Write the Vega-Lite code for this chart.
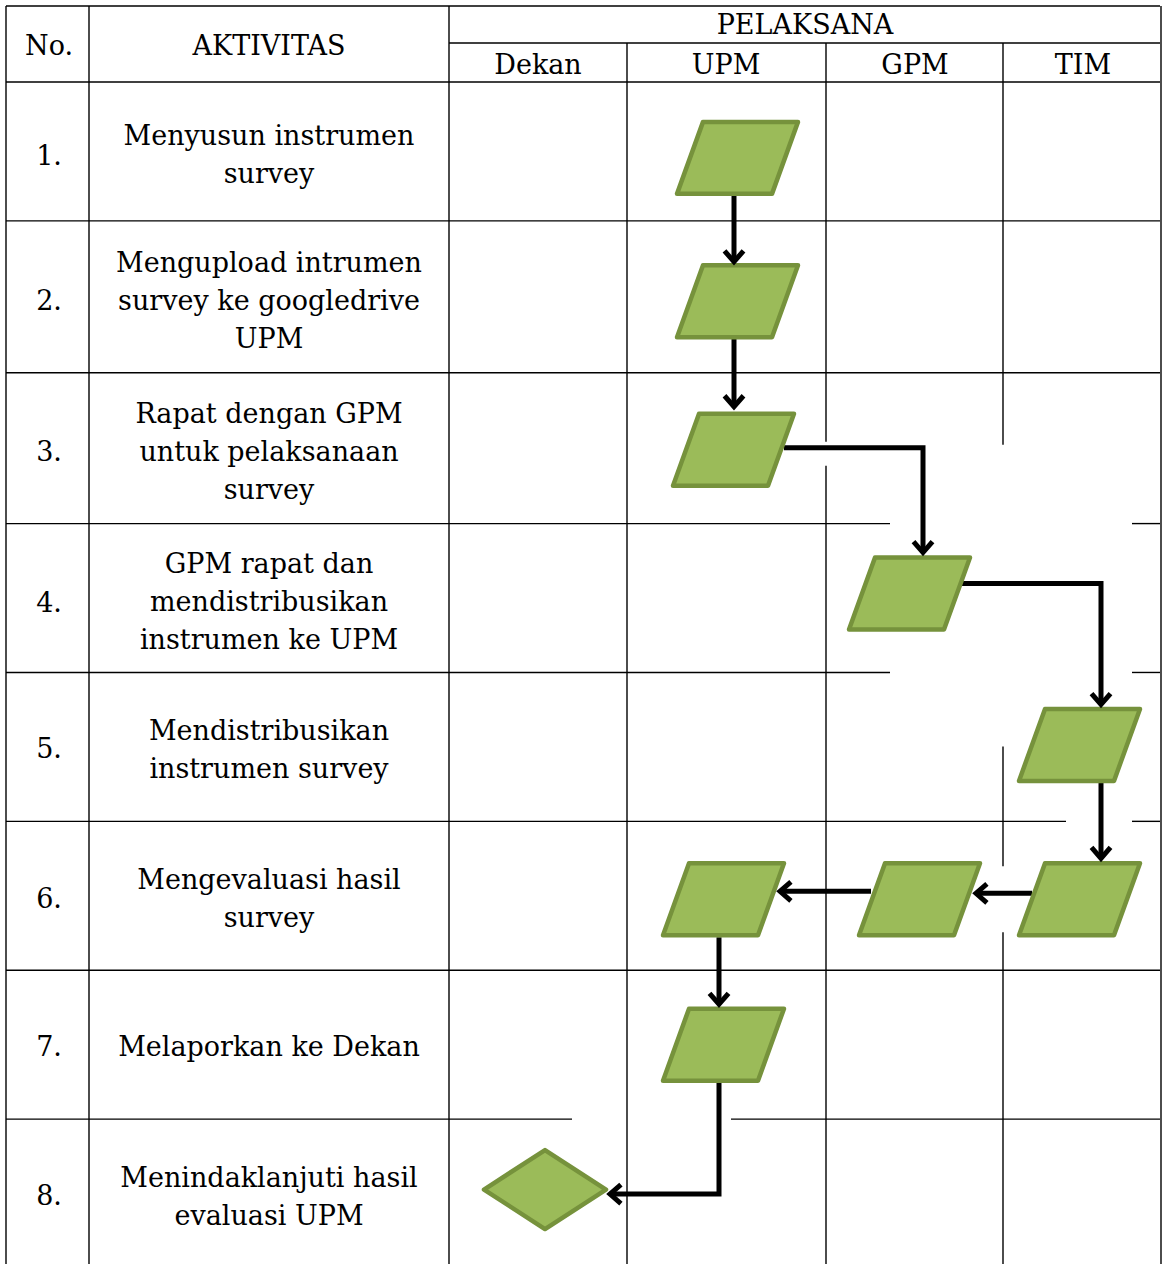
{
  "$schema": "https://vega.github.io/schema/vega-lite/v6.json",
  "width": 1164,
  "height": 1265,
  "padding": 0,
  "autosize": {"type": "fit", "contains": "padding"},
  "background": "white",
  "config": {"view": {"stroke": null}},
  "datasets": {
    "grid": [
      {"x1": 6, "y1": 6, "x2": 1160, "y2": 6},
      {"x1": 449, "y1": 43, "x2": 1160, "y2": 43},
      {"x1": 6, "y1": 82, "x2": 1160, "y2": 82},
      {"x1": 6, "y1": 221, "x2": 1160, "y2": 221},
      {"x1": 6, "y1": 373, "x2": 1160, "y2": 373},
      {"x1": 6, "y1": 524, "x2": 890, "y2": 524},
      {"x1": 1132, "y1": 524, "x2": 1160, "y2": 524},
      {"x1": 6, "y1": 673, "x2": 890, "y2": 673},
      {"x1": 1132, "y1": 673, "x2": 1160, "y2": 673},
      {"x1": 6, "y1": 822, "x2": 1066, "y2": 822},
      {"x1": 1132, "y1": 822, "x2": 1160, "y2": 822},
      {"x1": 6, "y1": 971, "x2": 1160, "y2": 971},
      {"x1": 6, "y1": 1120, "x2": 572, "y2": 1120},
      {"x1": 731, "y1": 1120, "x2": 1160, "y2": 1120},
      {"x1": 6, "y1": 6, "x2": 6, "y2": 1265},
      {"x1": 89, "y1": 6, "x2": 89, "y2": 1265},
      {"x1": 449, "y1": 6, "x2": 449, "y2": 1265},
      {"x1": 627, "y1": 43, "x2": 627, "y2": 1265},
      {"x1": 826, "y1": 43, "x2": 826, "y2": 442},
      {"x1": 826, "y1": 466, "x2": 826, "y2": 1265},
      {"x1": 1003, "y1": 43, "x2": 1003, "y2": 445},
      {"x1": 1003, "y1": 747, "x2": 1003, "y2": 867},
      {"x1": 1003, "y1": 933, "x2": 1003, "y2": 1265},
      {"x1": 1161, "y1": 6, "x2": 1161, "y2": 1265}
    ],
    "arrows": [
      {"id": "a1", "seq": 1, "x": 734, "y": 195},
      {"id": "a1", "seq": 2, "x": 734, "y": 261},
      {"id": "a2", "seq": 1, "x": 734, "y": 338},
      {"id": "a2", "seq": 2, "x": 734, "y": 406},
      {"id": "a3", "seq": 1, "x": 784, "y": 448},
      {"id": "a3", "seq": 2, "x": 923, "y": 448},
      {"id": "a3", "seq": 3, "x": 923, "y": 552},
      {"id": "a4", "seq": 1, "x": 962, "y": 584},
      {"id": "a4", "seq": 2, "x": 1101, "y": 584},
      {"id": "a4", "seq": 3, "x": 1101, "y": 704},
      {"id": "a5", "seq": 1, "x": 1101, "y": 783},
      {"id": "a5", "seq": 2, "x": 1101, "y": 858},
      {"id": "a6", "seq": 1, "x": 1032, "y": 894},
      {"id": "a6", "seq": 2, "x": 977, "y": 894},
      {"id": "a7", "seq": 1, "x": 871, "y": 892},
      {"id": "a7", "seq": 2, "x": 781, "y": 892},
      {"id": "a8", "seq": 1, "x": 719, "y": 938},
      {"id": "a8", "seq": 2, "x": 719, "y": 1004},
      {"id": "a9", "seq": 1, "x": 719, "y": 1083},
      {"id": "a9", "seq": 2, "x": 719, "y": 1195},
      {"id": "a9", "seq": 3, "x": 611, "y": 1195}
    ],
    "heads": [
      {"dir": "down", "x": 734, "y": 262},
      {"dir": "down", "x": 734, "y": 407},
      {"dir": "down", "x": 923, "y": 553},
      {"dir": "down", "x": 1101, "y": 705},
      {"dir": "down", "x": 1101, "y": 859},
      {"dir": "down", "x": 719, "y": 1005},
      {"dir": "left", "x": 976, "y": 894},
      {"dir": "left", "x": 780, "y": 892},
      {"dir": "left", "x": 610, "y": 1195}
    ],
    "shapes": [
      {"kind": "data", "step": "1", "x": 737.5, "y": 158},
      {"kind": "data", "step": "2", "x": 737.5, "y": 301.5},
      {"kind": "data", "step": "3", "x": 733.5, "y": 450},
      {"kind": "data", "step": "4", "x": 909.5, "y": 594},
      {"kind": "data", "step": "5", "x": 1079.5, "y": 745.5},
      {"kind": "data", "step": "6 TIM", "x": 1079.5, "y": 900},
      {"kind": "data", "step": "6 GPM", "x": 919.5, "y": 900},
      {"kind": "data", "step": "6 UPM", "x": 723.5, "y": 900},
      {"kind": "data", "step": "7", "x": 723.5, "y": 1045.5},
      {"kind": "decision", "step": "8", "x": 545, "y": 1190.5}
    ],
    "labels": [
      {"text": "PELAKSANA", "x": 805, "y": 26},
      {"text": "No.", "x": 49, "y": 47},
      {"text": "AKTIVITAS", "x": 269, "y": 47},
      {"text": "Dekan", "x": 538, "y": 66},
      {"text": "UPM", "x": 726, "y": 66},
      {"text": "GPM", "x": 915, "y": 66},
      {"text": "TIM", "x": 1083, "y": 66},
      {"text": "1.", "x": 49, "y": 157},
      {"text": "2.", "x": 49, "y": 302},
      {"text": "3.", "x": 49, "y": 453},
      {"text": "4.", "x": 49, "y": 604},
      {"text": "5.", "x": 49, "y": 751},
      {"text": "6.", "x": 49, "y": 901},
      {"text": "7.", "x": 49, "y": 1049},
      {"text": "8.", "x": 49, "y": 1198},
      {"text": "Menyusun instrumen\nsurvey", "x": 269, "y": 137},
      {"text": "Mengupload intrumen\nsurvey ke googledrive\nUPM", "x": 269, "y": 264},
      {"text": "Rapat dengan GPM\nuntuk pelaksanaan\nsurvey", "x": 269, "y": 415},
      {"text": "GPM rapat dan\nmendistribusikan\ninstrumen ke UPM", "x": 269, "y": 565},
      {"text": "Mendistribusikan\ninstrumen survey", "x": 269, "y": 733},
      {"text": "Mengevaluasi hasil\nsurvey", "x": 269, "y": 882},
      {"text": "Melaporkan ke Dekan", "x": 269, "y": 1049},
      {"text": "Menindaklanjuti hasil\nevaluasi UPM", "x": 269, "y": 1180}
    ]
  },
  "layer": [
    {
      "data": {"name": "grid"},
      "mark": {"type": "rule", "stroke": "#000000", "strokeWidth": 1.4},
      "encoding": {
        "x": {"field": "x1", "type": "quantitative", "scale": {"domain": [0, 1164], "nice": false, "zero": false}, "axis": null},
        "y": {"field": "y1", "type": "quantitative", "scale": {"domain": [0, 1265], "nice": false, "zero": false, "reverse": true}, "axis": null},
        "x2": {"field": "x2"},
        "y2": {"field": "y2"}
      }
    },
    {
      "data": {"name": "arrows"},
      "mark": {"type": "line", "stroke": "#000000", "strokeWidth": 5, "strokeJoin": "miter", "strokeCap": "butt"},
      "encoding": {
        "x": {"field": "x", "type": "quantitative"},
        "y": {"field": "y", "type": "quantitative"},
        "detail": {"field": "id"},
        "order": {"field": "seq", "type": "quantitative"}
      }
    },
    {
      "data": {"name": "shapes"},
      "transform": [{"filter": "datum.kind === 'data'"}],
      "mark": {"type": "point", "shape": "M-0.57,-0.595 L1,-0.595 L0.57,0.595 L-1,0.595 Z", "size": 14641, "filled": true, "fill": "#9BBB59", "stroke": "#76923C", "strokeWidth": 4.5, "strokeJoin": "round", "opacity": 1},
      "encoding": {
        "x": {"field": "x", "type": "quantitative"},
        "y": {"field": "y", "type": "quantitative"}
      }
    },
    {
      "data": {"name": "shapes"},
      "transform": [{"filter": "datum.kind === 'decision'"}],
      "mark": {"type": "point", "shape": "M-1,0 L0,-0.648 L1,0 L0,0.648 Z", "size": 14884, "filled": true, "fill": "#9BBB59", "stroke": "#76923C", "strokeWidth": 4.5, "strokeJoin": "round", "opacity": 1},
      "encoding": {
        "x": {"field": "x", "type": "quantitative"},
        "y": {"field": "y", "type": "quantitative"}
      }
    },
    {
      "data": {"name": "heads"},
      "transform": [{"filter": "datum.dir === 'down'"}],
      "mark": {"type": "point", "shape": "M-1,-1.15 L0,0 L1,-1.15", "size": 361, "filled": false, "fill": null, "stroke": "#000000", "strokeWidth": 5, "strokeJoin": "miter", "opacity": 1},
      "encoding": {
        "x": {"field": "x", "type": "quantitative"},
        "y": {"field": "y", "type": "quantitative"}
      }
    },
    {
      "data": {"name": "heads"},
      "transform": [{"filter": "datum.dir === 'left'"}],
      "mark": {"type": "point", "shape": "M1.15,-1 L0,0 L1.15,1", "size": 361, "filled": false, "fill": null, "stroke": "#000000", "strokeWidth": 5, "strokeJoin": "miter", "opacity": 1},
      "encoding": {
        "x": {"field": "x", "type": "quantitative"},
        "y": {"field": "y", "type": "quantitative"}
      }
    },
    {
      "data": {"name": "labels"},
      "mark": {"type": "text", "font": "DejaVu Serif", "fontSize": 27, "color": "#000000", "align": "center", "baseline": "middle", "lineBreak": "\n", "lineHeight": 38},
      "encoding": {
        "x": {"field": "x", "type": "quantitative"},
        "y": {"field": "y", "type": "quantitative"},
        "text": {"field": "text"}
      }
    }
  ]
}
